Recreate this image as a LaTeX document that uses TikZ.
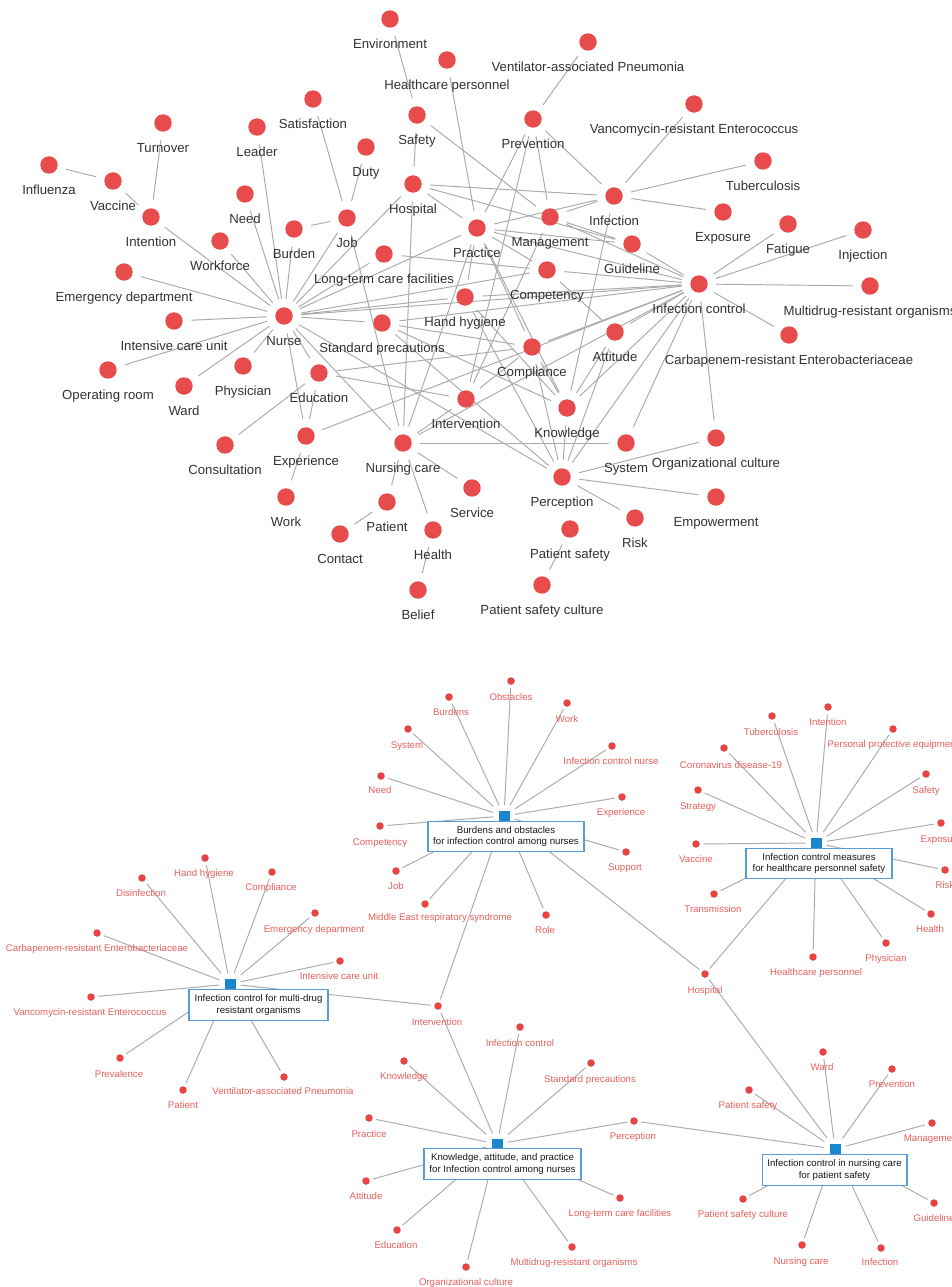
\documentclass[tikz,border=0pt]{standalone}
\usepackage{fontspec}
\setmainfont{Liberation Sans}
\definecolor{topred}{HTML}{E84B4B}
\definecolor{dotred}{HTML}{E84343}
\definecolor{labred}{HTML}{E8605C}
\definecolor{edgegray}{HTML}{ABABAB}
\definecolor{boxblue}{HTML}{5B9BD5}
\definecolor{sqblue}{HTML}{1A86CE}
\definecolor{toptext}{HTML}{333333}
\pgfdeclarelayer{edges}
\pgfdeclarelayer{paper}
\pgfsetlayers{paper,edges,main}
\newcommand\TopN[4]{\node[tc] (#1) at (#2,#3) {}; \node[tl] (#1-l) at (#2,#3+29.5) {#4};}
\newcommand\BotN[6]{\node[bd] (#1) at (#2,#3) {}; \node[bl] (#1-l) at (#4,#5+3.5) {#6};}
\begin{document}
\begin{tikzpicture}[x=0.02cm,y=-0.02cm,
  tc/.style={circle,fill=topred,minimum size=0.348cm,inner sep=0pt,outer sep=5pt},
  tl/.style={anchor=base,inner sep=0pt,text=toptext,font=\fontsize{7.5}{9}\selectfont},
  bd/.style={circle,fill=dotred,minimum size=0.15cm,inner sep=0pt,outer sep=2pt},
  bl/.style={anchor=base,inner sep=0pt,text=labred,font=\fontsize{5.5}{6.6}\selectfont},
  sq/.style={rectangle,fill=sqblue,minimum size=0.22cm,inner sep=0pt,outer sep=3pt},
  topic/.style={rectangle,draw=boxblue,fill=white,line width=0.6pt,align=center,inner sep=0pt,
    minimum height=0.61cm,text=black!90,font=\fontsize{5.5}{6.8}\selectfont},
  ed/.style={draw=edgegray,line width=0.55pt}]
\useasboundingbox (0,0) rectangle (951,1287);
\begin{pgfonlayer}{paper}
\fill[white] (0,0) rectangle (951,1287);
\end{pgfonlayer}

% ---------------- top network ----------------
\TopN{env}{390}{19}{Environment}
\TopN{hcp}{447}{60}{Healthcare personnel}
\TopN{sat}{313}{99}{Satisfaction}
\TopN{lea}{257}{127}{Leader}
\TopN{tur}{163}{123}{Turnover}
\TopN{inf}{49}{165}{Influenza}
\TopN{vac}{113}{181}{Vaccine}
\TopN{saf}{417}{115}{Safety}
\TopN{dut}{366}{147}{Duty}
\TopN{hos}{413}{184}{Hospital}
\TopN{int}{151}{217}{Intention}
\TopN{nee}{245}{194}{Need}
\TopN{job}{347}{218}{Job}
\TopN{bur}{294}{229}{Burden}
\TopN{wor}{220}{241}{Workforce}
\TopN{eme}{124}{272}{Emergency department}
\TopN{ltc}{384}{254}{Long-term care facilities}
\TopN{pra}{477}{228}{Practice}
\TopN{nur}{284}{316}{Nurse}
\TopN{hh}{465}{297}{Hand hygiene}
\TopN{icu}{174}{321}{Intensive care unit}
\TopN{vap}{588}{42}{Ventilator-associated Pneumonia}
\TopN{pre}{533}{119}{Prevention}
\TopN{vre}{694}{104}{Vancomycin-resistant Enterococcus}
\TopN{tub}{763}{161}{Tuberculosis}
\TopN{ifn}{614}{196}{Infection}
\TopN{man}{550}{217}{Management}
\TopN{exp}{723}{212}{Exposure}
\TopN{fat}{788}{224}{Fatigue}
\TopN{inj}{863}{230}{Injection}
\TopN{gui}{632}{244}{Guideline}
\TopN{com}{547}{270}{Competency}
\TopN{ic}{699}{284}{Infection control}
\TopN{mdr}{870}{286}{Multidrug-resistant organisms}
\TopN{sp}{382}{323}{Standard precautions}
\TopN{or}{108}{370}{Operating room}
\TopN{war}{184}{386}{Ward}
\TopN{phy}{243}{366}{Physician}
\TopN{edu}{319}{373}{Education}
\TopN{itv}{466}{399}{Intervention}
\TopN{con}{225}{445}{Consultation}
\TopN{xpe}{306}{436}{Experience}
\TopN{nc}{403}{443}{Nursing care}
\TopN{wrk}{286}{497}{Work}
\TopN{pat}{387}{502}{Patient}
\TopN{ser}{472}{488}{Service}
\TopN{cnt}{340}{534}{Contact}
\TopN{hea}{433}{530}{Health}
\TopN{bel}{418}{590}{Belief}
\TopN{cpl}{532}{347}{Compliance}
\TopN{att}{615}{332}{Attitude}
\TopN{cre}{789}{335}{Carbapenem-resistant Enterobacteriaceae}
\TopN{kno}{567}{408}{Knowledge}
\TopN{sys}{626}{443}{System}
\TopN{oc}{716}{438}{Organizational culture}
\TopN{per}{562}{477}{Perception}
\TopN{emp}{716}{497}{Empowerment}
\TopN{ris}{635}{518}{Risk}
\TopN{ps}{570}{529}{Patient safety}
\TopN{psc}{542}{585}{Patient safety culture}

\begin{pgfonlayer}{edges}
\foreach \a/\b in {env/saf,hcp/pra,saf/hos,saf/man,sat/job,dut/job,bur/job,tur/int,inf/vac,vac/int,
  int/nur,lea/nur,nee/nur,bur/nur,wor/nur,eme/nur,icu/nur,or/nur,war/nur,phy/nur,job/nur,hos/nur,
  ltc/nur,pra/nur,com/nur,hh/nur,sp/nur,edu/nur,xpe/nur,nc/nur,per/nur,ic/nur,job/nc,hos/nc,hos/ifn,
  hos/gui,hos/pra,pre/vap,pre/ifn,pre/man,pre/pra,pre/itv,vre/ifn,tub/ifn,ifn/exp,ifn/man,ifn/pra,
  ifn/kno,fat/ic,inj/ic,mdr/ic,cre/ic,gui/ic,man/ic,pra/ic,com/ic,hh/ic,cpl/ic,sp/ic,kno/ic,att/ic,
  sys/ic,oc/ic,per/ic,nc/ic,xpe/ic,man/gui,pra/com,pra/gui,pra/hh,pra/cpl,pra/nc,pra/kno,com/att,
  ltc/com,man/itv,edu/xpe,xpe/wrk,con/edu,edu/itv,edu/cpl,nc/pat,pat/cnt,nc/hea,hea/bel,nc/ser,
  nc/sys,nc/itv,itv/cpl,sp/per,sp/kno,hh/kno,kno/per,kno/att,kno/cpl,att/per,cpl/per,per/oc,
  per/emp,per/ris,ps/psc,hh/per,sp/cpl}
  \draw[ed] (\a) -- (\b);
\end{pgfonlayer}

% ---------------- bottom topic clusters ----------------
% cluster 1
\node[sq] (c1sq) at (504,816) {};
\BotN{a1}{511}{681}{511}{697}{Obstacles}
\BotN{a2}{449}{697}{451}{712}{Burdens}
\BotN{a3}{567}{703}{567}{719}{Work}
\BotN{a4}{408}{729}{407}{745}{System}
\BotN{a5}{612}{746}{611}{761}{Infection control nurse}
\BotN{a6}{381}{776}{380}{790}{Need}
\BotN{a7}{622}{797}{621}{812}{Experience}
\BotN{a8}{380}{826}{380}{842}{Competency}
\BotN{a9}{626}{852}{625}{867}{Support}
\BotN{a10}{396}{871}{396}{886}{Job}
\BotN{a11}{425}{904}{440}{917}{Middle East respiratory syndrome}
\BotN{a12}{546}{915}{545}{930}{Role}
% cluster 2
\node[sq] (c2sq) at (816,843) {};
\BotN{b1}{828}{707}{828}{722}{Intention}
\BotN{b2}{772}{716}{771}{732}{Tuberculosis}
\BotN{b3}{893}{729}{893}{744}{Personal protective equipment}
\BotN{b4}{724}{748}{731}{765}{Coronavirus disease-19}
\BotN{b5}{926}{774}{926}{790}{Safety}
\BotN{b6}{698}{790}{698}{806}{Strategy}
\BotN{b7}{941}{823}{941}{839}{Exposure}
\BotN{b8}{696}{844}{696}{859}{Vaccine}
\BotN{b9}{945}{870}{945}{885}{Risk}
\BotN{b10}{714}{894}{713}{909}{Transmission}
\BotN{b11}{931}{914}{930}{929}{Health}
\BotN{b12}{886}{943}{886}{958}{Physician}
\BotN{b13}{813}{957}{816}{972}{Healthcare personnel}
\BotN{hosp}{705}{974}{705}{990}{Hospital}
% cluster 3
\node[sq] (c3sq) at (230,984) {};
\BotN{d1}{205}{858}{204}{873}{Hand hygiene}
\BotN{d2}{142}{878}{141}{893}{Disinfection}
\BotN{d3}{272}{872}{271}{887}{Compliance}
\BotN{d4}{315}{913}{314}{929}{Emergency department}
\BotN{d5}{97}{933}{97}{948}{Carbapenem-resistant Enterobacteriaceae}
\BotN{d6}{340}{961}{339}{976}{Intensive care unit}
\BotN{d7}{91}{997}{90}{1012}{Vancomycin-resistant Enterococcus}
\BotN{d8}{120}{1058}{119}{1074}{Prevalence}
\BotN{d9}{183}{1090}{183}{1105}{Patient}
\BotN{d10}{284}{1077}{283}{1091}{Ventilator-associated Pneumonia}
% cluster 4
\node[sq] (c4sq) at (497,1144) {};
\BotN{intv}{438}{1006}{437}{1022}{Intervention}
\BotN{e1}{520}{1027}{520}{1043}{Infection control}
\BotN{e2}{404}{1061}{404}{1076}{Knowledge}
\BotN{e3}{591}{1063}{590}{1079}{Standard precautions}
\BotN{e4}{369}{1118}{369}{1134}{Practice}
\BotN{perc}{634}{1121}{633}{1136}{Perception}
\BotN{e5}{366}{1181}{366}{1196}{Attitude}
\BotN{e6}{620}{1198}{620}{1213}{Long-term care facilities}
\BotN{e7}{397}{1230}{396}{1245}{Education}
\BotN{e8}{572}{1247}{574}{1262}{Multidrug-resistant organisms}
\BotN{e9}{466}{1267}{466}{1282}{Organizational culture}
% cluster 5
\node[sq] (c5sq) at (835,1149) {};
\BotN{f1}{823}{1052}{822}{1067}{Ward}
\BotN{f2}{892}{1069}{892}{1084}{Prevention}
\BotN{f3}{749}{1090}{748}{1105}{Patient safety}
\BotN{f4}{932}{1123}{932}{1138}{Management}
\BotN{f5}{743}{1199}{743}{1214}{Patient safety culture}
\BotN{f6}{934}{1203}{934}{1218}{Guideline}
\BotN{f7}{802}{1245}{801}{1261}{Nursing care}
\BotN{f8}{881}{1248}{880}{1262}{Infection}

\begin{pgfonlayer}{edges}
\foreach \s in {a1,a2,a3,a4,a5,a6,a7,a8,a9,a10,a11,a12,hosp,intv} \draw[ed] (c1sq) -- (\s);
\foreach \s in {b1,b2,b3,b4,b5,b6,b7,b8,b9,b10,b11,b12,b13,hosp} \draw[ed] (c2sq) -- (\s);
\foreach \s in {d1,d2,d3,d4,d5,d6,d7,d8,d9,d10,intv} \draw[ed] (c3sq) -- (\s);
\foreach \s in {intv,e1,e2,e3,e4,perc,e5,e6,e7,e8,e9} \draw[ed] (c4sq) -- (\s);
\foreach \s in {f1,f2,f3,f4,f5,f6,f7,f8,hosp,perc} \draw[ed] (c5sq) -- (\s);
\end{pgfonlayer}

\node[topic,minimum width=3.12cm] (c1box) at (506,836.5) {Burdens and obstacles\\for infection control among nurses};
\node[topic,minimum width=2.92cm] (c2box) at (819,863.5) {Infection control measures\\for healthcare personnel safety};
\node[topic,minimum width=2.78cm] (c3box) at (258.5,1005) {Infection control for multi-drug\\resistant organisms};
\node[topic,minimum width=3.14cm] (c4box) at (502.5,1164) {Knowledge, attitude, and practice\\for Infection control among nurses};
\node[topic,minimum width=2.90cm] (c5box) at (834.5,1170) {Infection control in nursing care\\for patient safety};
\end{tikzpicture}
\end{document}
